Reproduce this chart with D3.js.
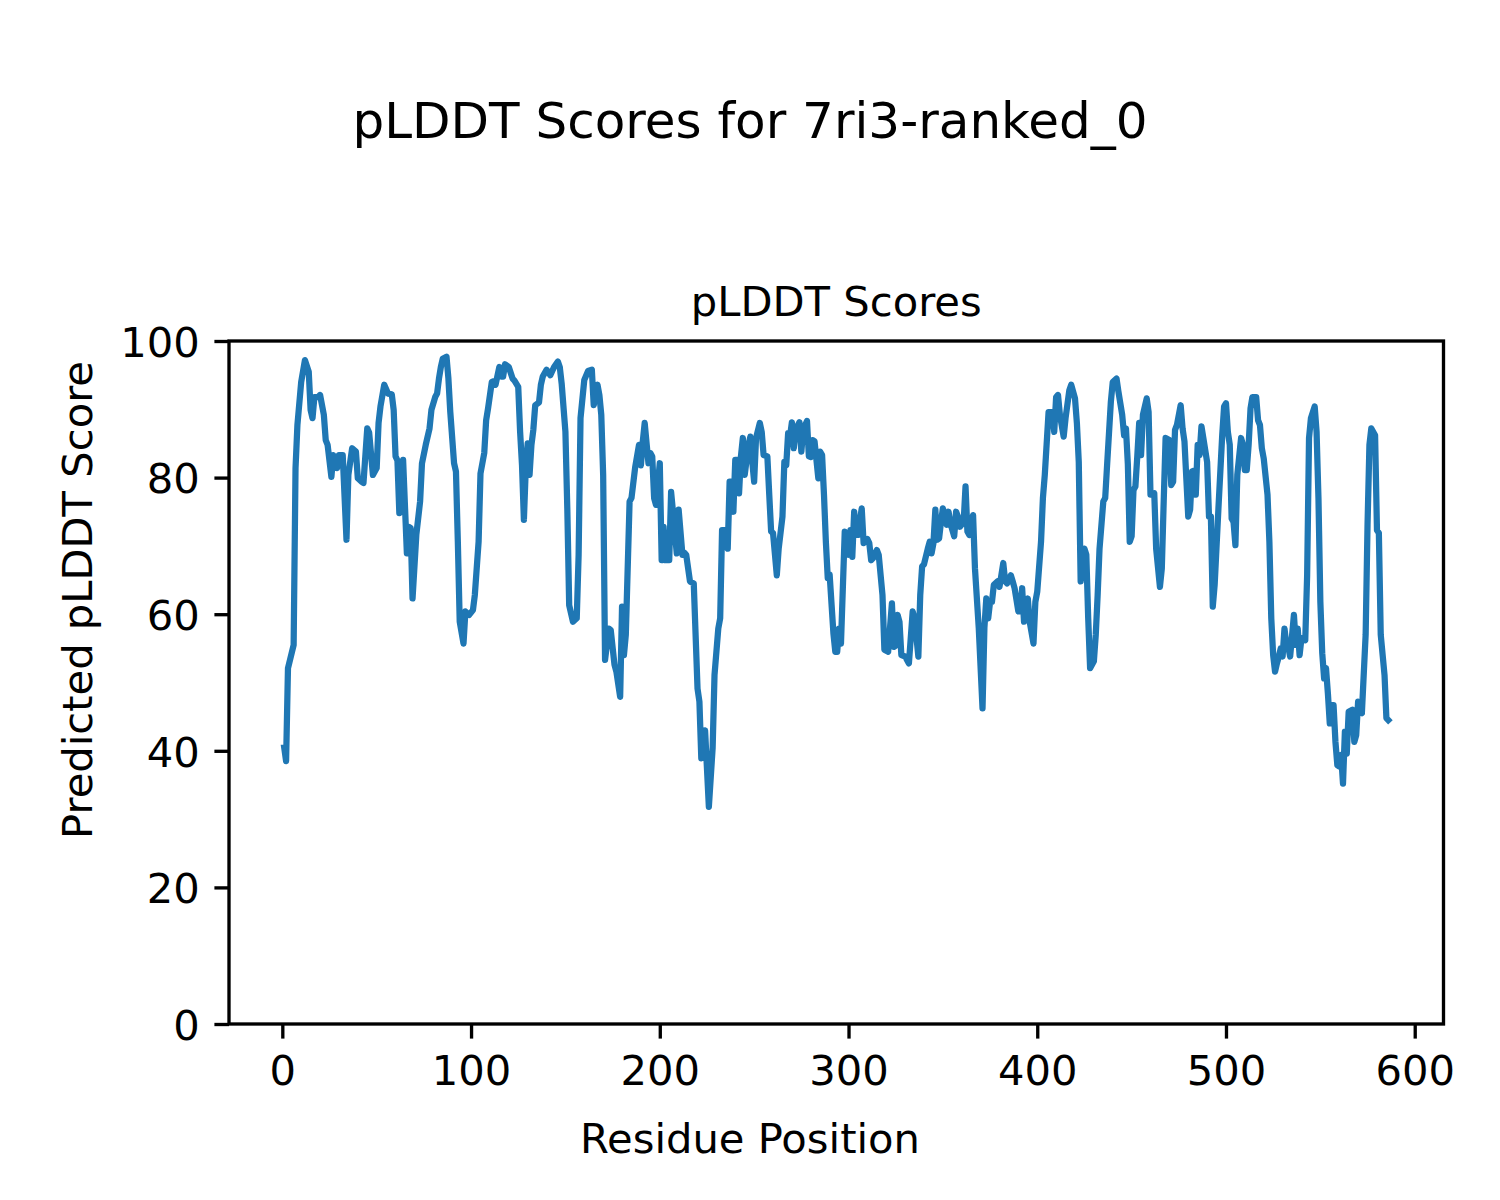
<!DOCTYPE html>
<html>
<head>
<meta charset="utf-8">
<script src="https://cdn.jsdelivr.net/npm/d3@7"></script>
<style>
  html, body { margin: 0; padding: 0; background: #ffffff; }
  svg { display: block; }
  text { font-family: "DejaVu Sans", sans-serif; fill: #000; }
</style>
</head>
<body>
<svg id="chart" width="1500" height="1200"></svg>
<script>
// ---------------- data ----------------
const figureTitle = "pLDDT Scores for 7ri3-ranked_0";
const axesTitle = "pLDDT Scores";
const xLabel = "Residue Position";
const yLabel = "Predicted pLDDT Score";
const xTicks = [0, 100, 200, 300, 400, 500, 600];
const yTicks = [0, 20, 40, 60, 80, 100];

const residues = [
  1, 2, 3, 6, 7, 8, 10, 12, 14, 15, 16, 17, 19, 20, 22, 23, 24, 26, 27, 29,
  30, 32, 34, 35, 37, 39, 40, 42, 43, 45, 46, 48, 50, 51, 52, 54, 56, 58, 59, 60,
  61, 62, 64, 66, 67, 68, 69, 71, 73, 74, 76, 78, 79, 81, 82, 83, 84, 85, 87, 88,
  89, 91, 92, 93, 94, 96, 97, 99, 101, 102, 104, 105, 107, 108, 109, 111, 112, 113, 115, 116,
  117, 118, 120, 122, 123, 125, 126, 127, 128, 129, 130, 131, 132, 133, 134, 136, 137, 138, 140, 142,
  144, 146, 147, 148, 150, 151, 152, 154, 156, 157, 158, 160, 162, 164, 165, 167, 168, 169, 170, 171,
  173, 174, 176, 177, 179, 180, 181, 182, 184, 185, 187, 189, 190, 191, 192, 194, 195, 196, 197, 198,
  200, 201, 202, 203, 205, 206, 207, 209, 210, 212, 213, 214, 216, 218, 220, 221, 222, 224, 226, 228,
  229, 231, 232, 233, 235, 236, 237, 238, 239, 240, 241, 242, 243, 244, 245, 247, 248, 249, 250, 251,
  253, 254, 255, 257, 258, 259, 260, 262, 263, 265, 266, 267, 268, 269, 270, 271, 272, 274, 275, 276,
  278, 279, 280, 281, 282, 284, 285, 286, 287, 288, 289, 290, 292, 293, 294, 295, 296, 298, 300, 301,
  302, 303, 304, 305, 307, 308, 310, 311, 312, 313, 315, 316, 318, 319, 321, 323, 324, 325, 326, 327,
  328, 330, 332, 334, 335, 337, 338, 339, 340, 342, 343, 344, 345, 346, 347, 348, 349, 350, 352, 353,
  354, 356, 357, 358, 359, 361, 362, 363, 364, 366, 367, 369, 371, 372, 373, 374, 375, 376, 377, 379,
  380, 382, 383, 384, 386, 387, 388, 390, 391, 392, 393, 395, 396, 398, 399, 400, 402, 403, 404, 406,
  408, 409, 410, 411, 412, 414, 415, 417, 418, 420, 421, 422, 423, 425, 426, 427, 428, 430, 431, 432,
  433, 435, 436, 437, 439, 440, 442, 443, 445, 446, 447, 448, 449, 450, 451, 452, 453, 454, 455, 456,
  458, 459, 460, 462, 463, 465, 466, 467, 468, 470, 471, 472, 473, 474, 476, 477, 478, 480, 481, 482,
  483, 484, 485, 486, 487, 488, 490, 491, 492, 493, 494, 496, 498, 499, 500, 501, 502, 503, 504, 505,
  506, 508, 509, 510, 511, 512, 513, 514, 516, 517, 518, 519, 520, 522, 523, 524, 525, 526, 527, 528,
  529, 530, 531, 532, 533, 534, 536, 537, 538, 539, 540, 542, 543, 544, 545, 547, 548, 549, 550, 551,
  552, 553, 554, 555, 556, 557, 558, 559, 560, 561, 562, 563, 564, 565, 567, 568, 569, 570, 571, 572,
  574, 575, 576, 577, 579, 580, 581, 582, 584, 585, 586
];

const scores = [
  40.5, 38.5, 52.1, 55.5, 81.4, 87.7, 94.0, 97.2, 95.5, 89.9, 88.7, 91.8, 91.8, 92.1, 89.2, 85.5, 84.8, 80.1, 83.3, 81.4,
  83.3, 83.3, 70.9, 80.4, 84.3, 83.8, 79.9, 79.4, 79.2, 87.2, 86.6, 80.4, 81.4, 88.0, 90.4, 93.6, 92.3, 92.2, 89.9, 83.1,
  82.5, 74.8, 82.6, 68.9, 72.8, 72.6, 62.3, 71.6, 76.5, 82.1, 84.8, 87.2, 89.9, 91.8, 92.3, 94.5, 96.2, 97.4, 97.7, 94.5,
  89.6, 82.1, 80.9, 70.6, 58.9, 55.7, 60.4, 59.9, 60.6, 62.8, 70.6, 80.6, 83.6, 88.4, 90.1, 94.0, 94.1, 93.6, 96.2, 94.8,
  94.8, 96.6, 96.2, 94.5, 94.2, 93.3, 86.7, 81.8, 73.8, 81.4, 85.0, 80.4, 84.8, 87.0, 90.6, 91.0, 93.6, 94.8, 95.8, 95.0,
  96.2, 97.0, 96.2, 93.8, 86.7, 75.5, 61.3, 58.9, 59.4, 68.7, 88.7, 94.3, 95.6, 95.8, 90.6, 93.6, 92.1, 89.2, 80.4, 53.3,
  57.9, 57.7, 52.6, 51.6, 47.9, 61.1, 54.0, 57.0, 76.5, 77.0, 81.6, 84.8, 81.8, 85.3, 88.0, 82.1, 83.6, 83.1, 77.0, 76.0,
  82.1, 67.9, 72.8, 67.9, 67.9, 77.9, 75.0, 68.9, 75.3, 68.7, 69.0, 68.7, 64.8, 64.5, 49.1, 47.2, 38.9, 43.0, 31.8, 40.4,
  51.1, 57.9, 59.4, 72.3, 72.3, 69.6, 79.4, 79.4, 75.0, 82.6, 82.6, 77.7, 83.1, 85.8, 80.4, 84.8, 86.0, 82.3, 79.4, 85.8,
  88.0, 86.7, 83.3, 83.1, 77.5, 72.1, 71.9, 65.7, 69.6, 74.3, 82.3, 81.8, 86.5, 86.0, 88.1, 84.3, 87.0, 88.1, 83.8, 87.0,
  88.3, 83.1, 83.0, 85.5, 85.3, 79.9, 83.8, 83.3, 77.5, 70.6, 65.3, 65.8, 57.2, 54.5, 54.5, 57.9, 55.7, 72.1, 68.7, 72.3,
  68.4, 75.0, 71.6, 71.6, 75.5, 70.4, 71.0, 70.4, 67.9, 68.2, 69.4, 68.7, 62.8, 54.8, 54.5, 61.6, 55.2, 55.4, 59.9, 58.9,
  54.0, 53.8, 52.8, 60.4, 59.4, 53.8, 62.8, 67.0, 67.3, 69.6, 70.6, 68.9, 70.4, 75.3, 70.9, 71.1, 73.5, 75.5, 73.1, 75.0,
  73.3, 71.4, 75.0, 74.3, 72.8, 73.5, 78.7, 72.1, 71.6, 74.5, 66.7, 58.0, 46.2, 58.0, 62.3, 59.4, 61.8, 61.8, 64.3, 64.8,
  64.0, 67.5, 64.8, 64.5, 65.7, 64.8, 63.8, 60.4, 60.4, 63.8, 58.9, 62.3, 58.9, 55.7, 61.8, 63.3, 70.6, 77.0, 80.4, 89.6,
  89.6, 86.7, 91.8, 92.1, 89.2, 86.0, 88.7, 92.8, 93.6, 91.6, 88.0, 82.3, 64.8, 69.6, 68.7, 59.4, 52.1, 53.1, 57.0, 62.8,
  69.6, 76.5, 77.0, 81.8, 91.1, 94.0, 94.5, 92.6, 89.2, 86.2, 87.2, 82.0, 70.6, 71.4, 78.2, 78.7, 83.1, 88.0, 83.3, 89.2,
  91.6, 89.6, 77.5, 77.7, 69.6, 64.0, 66.7, 76.5, 85.8, 85.5, 78.9, 79.4, 87.0, 87.7, 90.6, 87.2, 85.3, 74.3, 75.3, 80.9,
  81.0, 77.5, 84.8, 83.3, 87.5, 85.8, 82.3, 74.3, 74.3, 61.1, 64.3, 75.5, 86.2, 90.4, 90.9, 86.7, 84.8, 74.0, 73.5, 70.1,
  80.4, 85.8, 84.8, 81.1, 81.1, 84.8, 90.1, 91.8, 91.8, 88.4, 87.7, 84.3, 82.8, 77.5, 70.6, 59.4, 54.0, 51.6, 52.8, 53.8,
  55.0, 53.8, 57.9, 55.5, 55.2, 53.8, 59.9, 55.5, 57.9, 54.0, 56.5, 56.2, 65.7, 85.8, 88.7, 90.4, 86.7, 77.0, 61.8, 54.3,
  50.6, 52.1, 48.4, 44.0, 46.7, 46.7, 41.3, 37.9, 37.7, 39.4, 35.2, 42.8, 39.6, 45.7, 46.0, 41.3, 42.3, 47.2, 45.7, 45.5,
  57.0, 73.1, 84.8, 87.2, 86.2, 72.3, 71.9, 57.0, 51.1, 44.8, 44.5
];

// ---------------- layout ----------------
const W = 1500, H = 1200;
const plot = { left: 229, right: 1443.5, top: 341, bottom: 1024 };
const fontPx = 41.67;      // 10pt at 300 dpi
const titlePx = 50;        // 12pt at 300 dpi
const tickLen = 14.6, tickPad = 14.6, spineW = 3.33;
const lineColor = "#1f77b4";

const svg = d3.select("#chart");
svg.append("rect").attr("width", W).attr("height", H).attr("fill", "#ffffff");

const xMin = d3.min(residues), xMax = d3.max(residues);
const xPad = (xMax - xMin) * 0.05;
const x = d3.scaleLinear().domain([xMin - xPad, xMax + xPad]).range([plot.left, plot.right]);
const y = d3.scaleLinear().domain([0, 100]).range([plot.bottom, plot.top]);

const data = residues.map((r, i) => ({ r, s: scores[i] }));

// line
const line = d3.line().x(d => x(d.r)).y(d => y(d.s));
svg.append("path")
  .datum(data)
  .attr("d", line)
  .attr("fill", "none")
  .attr("stroke", lineColor)
  .attr("stroke-width", 6.25)
  .attr("stroke-linejoin", "round")
  .attr("stroke-linecap", "square");

// axes
const xAxis = d3.axisBottom(x).tickValues(xTicks).tickFormat(d3.format("d"))
  .tickSize(tickLen).tickPadding(tickPad);
const gx = svg.append("g").attr("transform", `translate(0,${plot.bottom})`).call(xAxis);
gx.select(".domain").remove();
gx.selectAll(".tick line").attr("stroke", "#000").attr("stroke-width", spineW);
gx.selectAll(".tick text").attr("font-size", fontPx).attr("dy", "0.76em")
  .style("font-family", "'DejaVu Sans', sans-serif").attr("fill", "#000");

const yAxis = d3.axisLeft(y).tickValues(yTicks).tickFormat(d3.format("d"))
  .tickSize(tickLen).tickPadding(tickPad);
const gy = svg.append("g").attr("transform", `translate(${plot.left},0)`).call(yAxis);
gy.select(".domain").remove();
gy.selectAll(".tick line").attr("stroke", "#000").attr("stroke-width", spineW);
gy.selectAll(".tick text").attr("font-size", fontPx).attr("dy", "0.365em")
  .style("font-family", "'DejaVu Sans', sans-serif").attr("fill", "#000");

// spines (drawn above the line, like matplotlib)
svg.append("rect")
  .attr("x", plot.left).attr("y", plot.top)
  .attr("width", plot.right - plot.left).attr("height", plot.bottom - plot.top)
  .attr("fill", "none").attr("stroke", "#000").attr("stroke-width", spineW)
  .attr("stroke-linejoin", "miter");

// titles and labels
svg.append("text").attr("x", W / 2).attr("y", 137.5)
  .attr("text-anchor", "middle").attr("font-size", titlePx).text(figureTitle);

svg.append("text").attr("x", (plot.left + plot.right) / 2).attr("y", plot.top - 25)
  .attr("text-anchor", "middle").attr("font-size", fontPx).text(axesTitle);

svg.append("text").attr("x", W / 2).attr("y", 1153)
  .attr("text-anchor", "middle").attr("font-size", fontPx).text(xLabel);

svg.append("text").attr("transform", `translate(92,600) rotate(-90)`)
  .attr("text-anchor", "middle").attr("font-size", fontPx).text(yLabel);
</script>
</body>
</html>
